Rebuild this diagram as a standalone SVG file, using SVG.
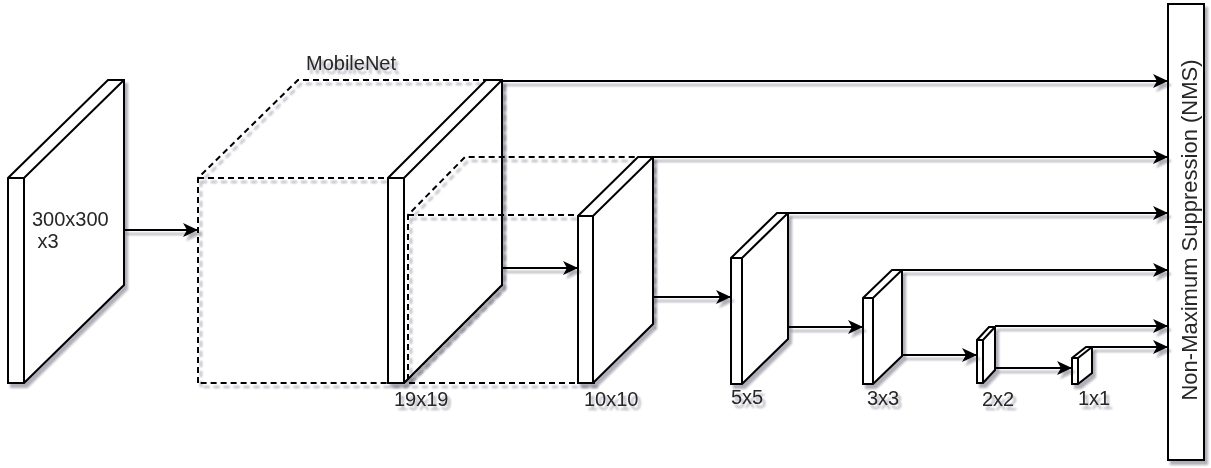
<svg xmlns="http://www.w3.org/2000/svg" width="1211" height="468" viewBox="0 0 1211 468">
<style>
.box{fill:#fff;stroke:#000;stroke-width:2;stroke-linejoin:miter}
.edge{fill:none;stroke:#000;stroke-width:2}
.dash{fill:none;stroke:#000;stroke-width:2;stroke-dasharray:6 4}
.conn{fill:none;stroke:#000;stroke-width:2}
.lbl{font-family:"Liberation Sans",Arial,sans-serif;font-size:20px;fill:#262626}
.sh{filter:url(#sh)}
</style>
<defs>
<filter id="sh" x="-20%" y="-20%" width="140%" height="140%">
<feDropShadow dx="3" dy="4" stdDeviation="1.2" flood-color="#223" flood-opacity="0.35"/>
</filter>
<marker id="arr" markerUnits="userSpaceOnUse" markerWidth="16" markerHeight="14" refX="15" refY="7" orient="auto">
<path d="M0,0 L15,7 L0,14 L4,7 z" fill="#000"/>
</marker>
</defs>

<g id="input" class="sh">
<path class="box" d="M8,383 L8,178 L108,80 L124,80 L124,285 L24,383 Z"/>
<path class="edge" d="M8,178 L24,178 L124,80 M24,178 L24,383"/>
<text class="lbl" x="32" y="226">300x300</text>
<text class="lbl" x="32" y="248" xml:space="preserve"> x3</text>
</g>

<g id="mobilenet" class="sh">
<path class="dash" d="M198,383 L198,178 L298,80 L502,80 L502,285 L404,383 Z M198,178 L404,178 L404,383 M404,178 L502,80"/>
<text class="lbl" x="306" y="70">MobileNet</text>
</g>

<g id="fm19" class="sh">
<path class="box" d="M388,383 L388,178 L486,80 L502,80 L502,285 L404,383 Z"/>
<path class="edge" d="M388,178 L404,178 L502,80 M404,178 L404,383"/>
<text class="lbl" x="394" y="406">19x19</text>
</g>

<g id="mobilenet2" class="sh">
<path class="dash" d="M595,383 L408,383 L408,215 L465,157 L652,157 L652,325 M408,215 L595,215 M595,215 L652,157"/>
</g>

<g id="fm10" class="sh">
<path class="box" d="M578,383 L578,216 L638,157 L653,157 L653,324 L593,383 Z"/>
<path class="edge" d="M578,216 L593,216 L653,157 M593,216 L593,383"/>
<text class="lbl" x="584" y="406">10x10</text>
</g>

<g id="fm5" class="sh">
<path class="box" d="M731,384 L731,258 L777,213 L788,213 L788,339 L742,384 Z"/>
<path class="edge" d="M731,258 L742,258 L788,213 M742,258 L742,384"/>
<text class="lbl" x="731" y="404">5x5</text>
</g>

<g id="fm3" class="sh">
<path class="box" d="M863,384 L863,298 L892,270 L902,270 L902,356 L873,384 Z"/>
<path class="edge" d="M863,298 L873,298 L902,270 M873,298 L873,384"/>
<text class="lbl" x="867" y="405">3x3</text>
</g>

<g id="fm2" class="sh">
<path class="box" d="M977,383 L977,340 L989,327 L995,327 L995,370 L983,383 Z"/>
<path class="edge" d="M977,340 L983,340 L995,327 M983,340 L983,383"/>
<text class="lbl" x="982" y="406">2x2</text>
</g>

<g id="fm1" class="sh">
<path class="box" d="M1072,384 L1072,358 L1086,347 L1092,347 L1092,373 L1078,384 Z"/>
<path class="edge" d="M1072,358 L1078,358 L1092,347 M1078,358 L1078,384"/>
<text class="lbl" x="1078" y="405">1x1</text>
</g>

<g id="nms" class="sh">
<rect class="box" x="1168" y="4" width="36" height="456"/>
<text class="lbl" style="font-size:22px" text-anchor="middle" transform="translate(1197,230) rotate(-90)">Non-Maximum Suppression (NMS)</text>
</g>

<g id="connectors" class="sh">
<path class="conn" marker-end="url(#arr)" d="M124,230 L198,230"/>
<path class="conn" marker-end="url(#arr)" d="M502,268 L578,268"/>
<path class="conn" marker-end="url(#arr)" d="M653,297 L731,297"/>
<path class="conn" marker-end="url(#arr)" d="M788,327 L863,327"/>
<path class="conn" marker-end="url(#arr)" d="M902,355 L977,355"/>
<path class="conn" marker-end="url(#arr)" d="M995,368 L1072,368"/>
<path class="conn" marker-end="url(#arr)" d="M502,81 L1168,81"/>
<path class="conn" marker-end="url(#arr)" d="M653,157 L1168,157"/>
<path class="conn" marker-end="url(#arr)" d="M788,213 L1168,213"/>
<path class="conn" marker-end="url(#arr)" d="M902,270 L1168,270"/>
<path class="conn" marker-end="url(#arr)" d="M995,326 L1168,326"/>
<path class="conn" marker-end="url(#arr)" d="M1092,347 L1168,347"/>
</g>
</svg>
